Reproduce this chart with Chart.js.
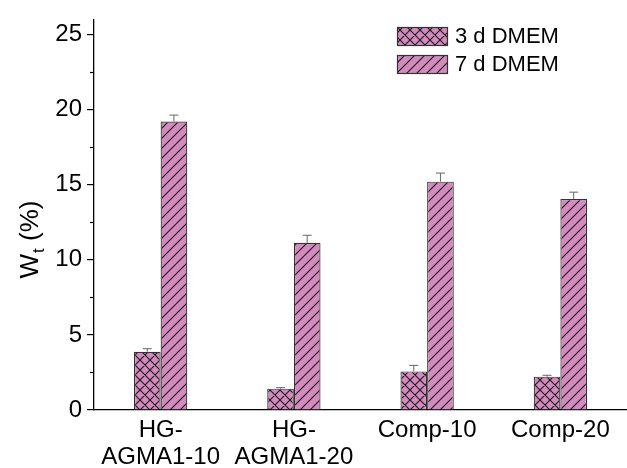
<!DOCTYPE html>
<html>
<head>
<meta charset="utf-8">
<script src="https://cdn.jsdelivr.net/npm/chart.js@4"></script>
<style>
  html, body { margin: 0; padding: 0; background: #fff; }
  #wrap { width: 627px; height: 468px; }
</style>
</head>
<body>
<div id="wrap"><canvas id="wtChart" width="627" height="468"></canvas></div>
<script>
// dữ liệu
const categories = [['HG-', 'AGMA1-10'], ['HG-', 'AGMA1-20'], 'Comp-10', 'Comp-20'];
const seriesNames = ['3 d DMEM', '7 d DMEM'];
const day3Values = [3.88, 1.42, 2.57, 2.22];
const day3Errors = [0.2, 0.07, 0.4, 0.09];
const day7Values = [19.2, 11.13, 15.2, 14.05];
const day7Errors = [0.43, 0.5, 0.57, 0.45];
const yTicks = [0, 5, 10, 15, 20, 25];
const yMinorTicks = [2.5, 7.5, 12.5, 17.5, 22.5];

const FONT = '"Liberation Sans", Arial, sans-serif';
const PINK = 'rgb(212, 138, 191)';

// tạo pattern gạch chéo
function makePattern(cross) {
    const s = 10;
    const c = document.createElement('canvas');
    c.width = s; c.height = s;
    const g = c.getContext('2d');
    g.fillStyle = PINK;
    g.fillRect(0, 0, s, s);
    g.strokeStyle = '#1a1a1a';
    g.lineWidth = 1.1;
    g.beginPath();
    g.moveTo(-1, s + 1); g.lineTo(s + 1, -1);
    g.moveTo(-1, 1); g.lineTo(1, -1);
    g.moveTo(s - 1, s + 1); g.lineTo(s + 1, s - 1);
    if (cross) {
        g.moveTo(-1, -1); g.lineTo(s + 1, s + 1);
        g.moveTo(s - 1, -1); g.lineTo(s + 1, 1);
        g.moveTo(-1, s - 1); g.lineTo(1, s + 1);
    }
    g.stroke();
    return document.getElementById('wtChart').getContext('2d').createPattern(c, 'repeat');
}

const crossPattern = makePattern(true);
const diagPattern = makePattern(false);
const errorsByDataset = [day3Errors, day7Errors];

const extrasPlugin = {
    id: 'extras',
    afterDatasetsDraw(chart) {
        const ctx = chart.ctx;
        const y = chart.scales.y;
        ctx.save();
        ctx.strokeStyle = '#666';
        ctx.lineWidth = 1;
        chart.data.datasets.forEach((ds, di) => {
            const meta = chart.getDatasetMeta(di);
            meta.data.forEach((bar, i) => {
                const top = y.getPixelForValue(ds.data[i]);
                const tip = y.getPixelForValue(ds.data[i] + errorsByDataset[di][i]);
                ctx.beginPath();
                ctx.moveTo(bar.x, top);
                ctx.lineTo(bar.x, tip);
                ctx.moveTo(bar.x - 4.5, tip);
                ctx.lineTo(bar.x + 4.5, tip);
                ctx.stroke();
            });
        });
        ctx.restore();
    },
    afterDraw(chart) {
        const ctx = chart.ctx;
        const y = chart.scales.y;
        ctx.save();
        // vạch chia phụ
        ctx.strokeStyle = '#000';
        ctx.lineWidth = 1.2;
        yMinorTicks.forEach(v => {
            const py = Math.round(y.getPixelForValue(v)) + 0.5;
            ctx.beginPath();
            ctx.moveTo(y.right - 4, py);
            ctx.lineTo(y.right, py);
            ctx.stroke();
        });

        // chú thích
        const fills = [crossPattern, diagPattern];
        seriesNames.forEach((name, i) => {
            const bx = 397, by = 27 + i * 28;
            ctx.fillStyle = fills[i];
            ctx.fillRect(bx, by, 51, 19);
            ctx.strokeStyle = '#333';
            ctx.lineWidth = 1.2;
            ctx.strokeRect(bx + 0.5, by + 0.5, 50, 18);
            ctx.fillStyle = '#000';
            ctx.font = '22px ' + FONT;
            ctx.textBaseline = 'middle';
            ctx.textAlign = 'left';
            ctx.fillText(name, bx + 58, by + 10);
        });

        // tiêu đề trục Y: W_t (%)
        ctx.translate(29, 240);
        ctx.rotate(-Math.PI / 2);
        ctx.fillStyle = '#000';
        ctx.textBaseline = 'alphabetic';
        ctx.textAlign = 'left';
        ctx.font = '26px ' + FONT;
        const wW = ctx.measureText('W').width;
        const wP = ctx.measureText(' (%)').width;
        ctx.font = '17px ' + FONT;
        const wT = ctx.measureText('t').width;
        let x0 = -(wW + wT + wP) / 2;
        ctx.font = '26px ' + FONT;
        ctx.fillText('W', x0, 9);
        ctx.font = '17px ' + FONT;
        ctx.fillText('t', x0 + wW + 1, 15);
        ctx.font = '26px ' + FONT;
        ctx.fillText(' (%)', x0 + wW + wT + 1, 9);
        ctx.restore();
    }
};

const ctx = document.getElementById('wtChart').getContext('2d');
const wtChart = new Chart(ctx, {
    type: 'bar',
    data: {
        labels: categories,
        datasets: [
            {
                label: seriesNames[0],
                data: day3Values,
                backgroundColor: crossPattern,
                borderColor: '#333',
                borderWidth: 1.2,
                categoryPercentage: 0.4,
                barPercentage: 1.0
            },
            {
                label: seriesNames[1],
                data: day7Values,
                backgroundColor: diagPattern,
                borderColor: '#333',
                borderWidth: 1.2,
                categoryPercentage: 0.4,
                barPercentage: 1.0
            }
        ]
    },
    options: {
        responsive: false,
        animation: false,
        layout: { padding: { top: 13, right: 0, left: 0, bottom: 0 } },
        scales: {
            x: {
                grid: { display: false, drawTicks: false },
                border: { display: true, color: '#000', width: 1.3 },
                ticks: {
                    color: '#000',
                    font: { family: FONT, size: 24, lineHeight: 1.12 },
                    padding: 7,
                    maxRotation: 0,
                    autoSkip: false
                },
                afterFit(scale) { scale.height = 58; }
            },
            y: {
                min: 0,
                max: 26,
                afterBuildTicks(scale) {
                    scale.ticks = yTicks.map(v => ({ value: v }));
                },
                grid: {
                    drawOnChartArea: false,
                    drawTicks: true,
                    tickLength: 7,
                    color: '#000',
                    lineWidth: 1.2
                },
                border: { display: true, color: '#000', width: 1.3 },
                ticks: {
                    color: '#000',
                    font: { family: FONT, size: 24 },
                    padding: 5
                },
                afterFit(scale) { scale.width = 94; }
            }
        },
        plugins: {
            legend: { display: false },
            tooltip: { enabled: false }
        }
    },
    plugins: [extrasPlugin]
});
</script>
</body>
</html>
